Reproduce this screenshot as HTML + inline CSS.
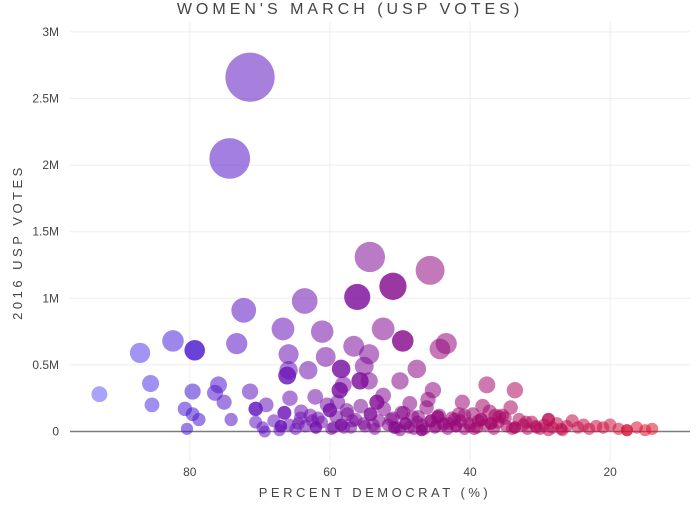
<!DOCTYPE html>
<html><head><meta charset="utf-8">
<style>
html,body{margin:0;padding:0;background:#fff;}
svg text{font-family:"Liberation Sans",sans-serif;fill:#444;}
</style></head>
<body>
<svg id="chart" width="700" height="500" xmlns="http://www.w3.org/2000/svg">
<text x="350" y="14" text-anchor="middle" font-size="16" letter-spacing="4">WOMEN'S MARCH (USP VOTES)</text>
<g id="grid"></g>
<g id="axes"></g>
<g id="marks"></g>
<text x="375" y="497" text-anchor="middle" font-size="13" letter-spacing="3.5">PERCENT DEMOCRAT (%)</text>
<text transform="translate(22,242) rotate(-90)" text-anchor="middle" font-size="13" letter-spacing="3.5">2016 USP VOTES</text>
</svg>
<script>
const xTicks = [80, 60, 40, 20];
const yTicks = [0, 0.5, 1, 1.5, 2, 2.5, 3];
const yTickLabels = ["0", "0.5M", "1M", "1.5M", "2M", "2.5M", "3M"];
const pct = [71.4,74.3,54.3,45.7,51.0,56.1,63.6,72.3,52.4,66.7,61.1,82.4,73.3,43.4,49.6,87.1,79.3,65.9,56.6,54.4,60.6,44.3,85.6,92.9,85.4,79.6,75.9,76.4,80.7,79.6,78.7,80.4,75.1,74.1,71.4,69.1,70.6,70.6,69.3,65.9,66.1,63.1,65.7,64.1,62.1,61.7,60.0,58.6,58.4,58.1,58.9,55.7,55.1,54.4,52.4,50.0,47.6,45.3,41.1,37.6,33.6,
69.6,68.0,67.2,66.5,65.8,64.9,64.2,63.5,62.8,62.0,61.2,60.4,59.8,59.1,58.4,57.6,57.0,56.3,55.6,55.0,54.2,53.6,53.0,52.3,51.7,51.0,50.4,49.8,49.2,48.6,48.0,47.4,46.8,46.2,45.6,45.0,44.4,43.8,43.2,42.6,42.0,41.4,40.8,40.2,39.6,39.0,38.4,37.8,37.2,36.6,36.0,35.4,34.8,34.2,33.6,33.0,32.4,31.8,31.2,30.6,30.0,29.4,28.8,28.2,27.6,27.0,26.2,25.4,24.6,23.8,23.0,22.0,21.0,20.0,18.8,17.6,16.2,15.0,14.0,
67.0,64.5,62.5,59.5,57.5,55.2,53.3,51.3,49.5,47.5,46.0,44.6,43.0,41.6,40.0,38.8,37.0,35.8,34.0,32.0,30.5,28.8,26.8,56.8,53.8,50.8,48.2,46.5,43.8,42.2,39.4,36.4,48.7,46.9,44.9,35.0,38.2,40.8,50.0,58.0];
const votes = [2.66,2.05,1.31,1.21,1.09,1.01,0.98,0.91,0.77,0.77,0.75,0.68,0.66,0.66,0.68,0.59,0.61,0.58,0.64,0.58,0.56,0.62,0.36,0.28,0.20,0.30,0.35,0.29,0.17,0.13,0.09,0.02,0.22,0.09,0.30,0.20,0.17,0.07,0.00,0.46,0.42,0.46,0.25,0.15,0.26,0.10,0.16,0.31,0.47,0.35,0.22,0.38,0.49,0.38,0.27,0.38,0.47,0.31,0.22,0.35,0.31,
0.03,0.08,0.01,0.14,0.05,0.02,0.10,0.04,0.12,0.03,0.07,0.20,0.02,0.11,0.05,0.16,0.03,0.09,0.19,0.04,0.13,0.02,0.08,0.17,0.05,0.10,0.03,0.14,0.06,0.21,0.02,0.11,0.05,0.18,0.08,0.03,0.12,0.06,0.02,0.10,0.04,0.08,0.02,0.06,0.13,0.03,0.09,0.05,0.15,0.02,0.07,0.12,0.04,0.18,0.03,0.09,0.05,0.02,0.07,0.04,0.02,0.05,0.09,0.03,0.06,0.02,0.04,0.08,0.03,0.05,0.02,0.04,0.03,0.05,0.02,0.01,0.03,0.01,0.02,
0.04,0.06,0.08,0.03,0.13,0.06,0.22,0.09,0.14,0.07,0.24,0.11,0.06,0.13,0.04,0.08,0.06,0.11,0.02,0.07,0.03,0.01,0.01,0.08,0.05,0.03,0.11,0.02,0.05,0.09,0.02,0.12,0.03,0.01,0.04,0.10,0.19,0.12,0.01,0.03];
const dark = [0,0,0,0,1,1,0,0,0,0,0,0,0,0,1,0,1,0,0,0,0,0,0,0,0,0,0,0,0,0,0,0,0,0,0,0,1,0,0,0,1,0,0,0,0,0,1,1,1,0,0,1,0,0,0,0,0,0,0,0,0,
0,0,0,1,0,0,0,0,0,1,0,0,0,0,1,0,0,0,0,0,1,0,0,0,0,0,0,0,1,0,0,0,0,0,1,0,0,0,0,0,1,0,0,0,0,0,1,0,0,0,0,0,0,0,1,0,0,0,0,0,0,0,1,0,0,0,0,0,0,0,0,0,0,0,0,1,0,0,0,
1,0,0,0,0,0,1,0,0,0,0,1,0,0,0,0,1,0,0,0,0,0,0,0,0,1,0,0,0,0,0,0,0,1,0,0,0,0,0,0];

const L=70,R=690,T=22,B=462;
const xMin=97.1, xMax=8.6;
function xs(p){return L+(xMin-p)/(xMin-xMax)*(R-L);}
function ys(v){return 431.5 - v*133.2;}
const NS="http://www.w3.org/2000/svg";
function mk(tag,attrs,parent){const e=document.createElementNS(NS,tag);for(const k in attrs)e.setAttribute(k,attrs[k]);parent.appendChild(e);return e;}
const grid=document.getElementById('grid'),axes=document.getElementById('axes'),marks=document.getElementById('marks');
xTicks.forEach(t=>{
  const g=mk('line',{x1:xs(t),x2:xs(t),y1:T,y2:B,stroke:'#eeeeee','stroke-width':1},grid);
  
  
  const tx=mk('text',{x:xs(t),y:476,'text-anchor':'middle','font-size':12},axes);
  tx.textContent=t;
  
  
});
yTicks.forEach((t,i)=>{
  if(t>0){
    const g=mk('line',{x1:L,x2:R,y1:ys(t),y2:ys(t),stroke:'#eeeeee','stroke-width':1},grid);
    
    
  }
  const tx=mk('text',{x:59,y:ys(t)+4,'text-anchor':'end','font-size':12},axes);
  tx.textContent=yTickLabels[i];
  
  
});
const zl=mk('line',{x1:L,x2:R,y1:ys(0),y2:ys(0),stroke:'#444','stroke-width':1.5,'stroke-opacity':0.7},axes);


const stops=[[95,[100,100,255]],[80,[72,24,210]],[65,[110,20,180]],[50,[135,10,140]],[35,[170,10,100]],[15,[220,20,50]]];
function col(p){
  if(p>=stops[0][0])return stops[0][1];
  for(let i=0;i<stops.length-1;i++){
    const a=stops[i],b=stops[i+1];
    if(p<=a[0]&&p>=b[0]){const f=(a[0]-p)/(a[0]-b[0]);return a[1].map((c,j)=>Math.round(c+(b[1][j]-c)*f));}
  }
  return stops[stops.length-1][1];
}
pct.forEach((p,i)=>{
  const v=votes[i];
  const c=col(p);
  const c2=mk('circle',{cx:xs(p),cy:ys(v),r:6+7*v,fill:`rgb(${c[0]},${c[1]},${c[2]})`,'fill-opacity':dark[i]?0.82:0.55},marks);
  
  
});
</script>
</body></html>
